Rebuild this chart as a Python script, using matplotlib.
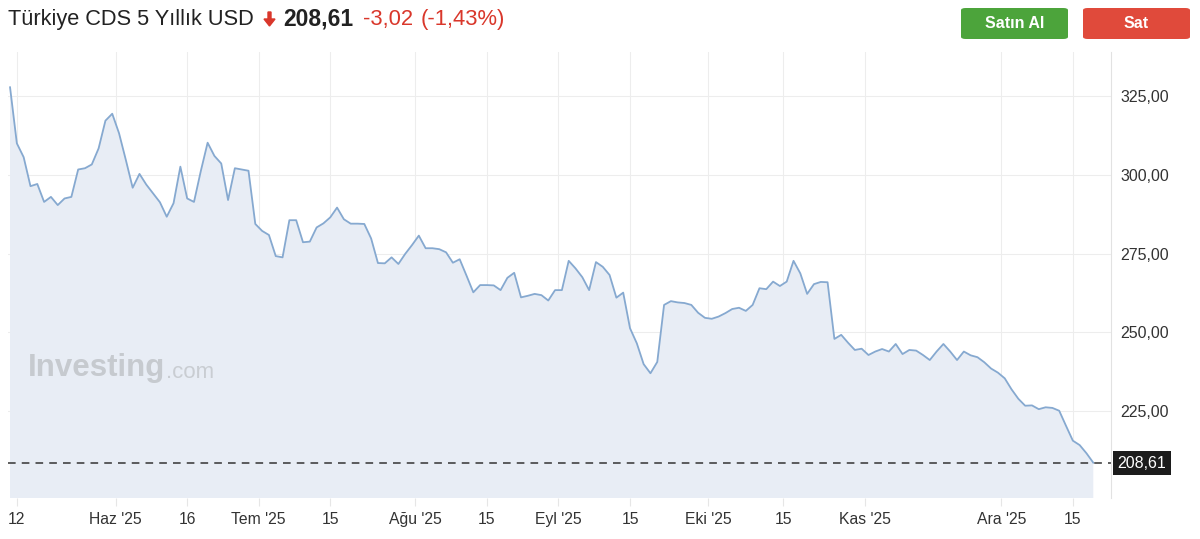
import matplotlib.pyplot as plt
from matplotlib.patches import FancyBboxPatch, FancyArrow

# Türkiye CDS 5Y USD, daily closes (trading days) from 9 May 2025 to ~18 Dec 2025
values = [
    327.8, 310.0, 305.6, 296.4, 297.1, 291.4, 293.0, 290.4, 292.5, 293.0,
    301.7, 302.1, 303.3, 308.4, 317.2, 319.4, 313.2, 304.7, 295.9, 300.3,
    296.9, 294.1, 291.3, 286.7, 291.0, 302.6, 292.5, 291.4, 301.2, 310.2,
    306.0, 303.6, 292.0, 302.1, 301.7, 301.3, 284.4, 282.2, 280.9, 274.2,
    273.8, 285.6, 285.6, 278.6, 278.8, 283.3, 284.6, 286.5, 289.6, 285.9,
    284.5, 284.5, 284.4, 279.8, 272.0, 271.9, 273.8, 271.7, 274.9, 277.7,
    280.7, 276.7, 276.7, 276.4, 275.4, 272.1, 273.2, 268.0, 262.7, 265.0,
    265.0, 264.9, 263.4, 267.3, 268.9, 261.1, 261.6, 262.2, 261.8, 260.1,
    263.4, 263.4, 272.7, 270.3, 267.5, 263.4, 272.3, 270.8, 268.2, 261.0,
    262.6, 251.3, 246.5, 239.9, 237.0, 240.6, 258.7, 259.9, 259.5, 259.3,
    258.7, 256.2, 254.6, 254.3, 255.0, 256.1, 257.4, 257.8, 256.8, 258.7,
    264.0, 263.7, 266.1, 264.7, 266.1, 272.7, 268.7, 262.2, 265.3, 266.0,
    265.9, 247.9, 249.2, 246.7, 244.4, 244.8, 242.8, 243.9, 244.7, 243.9,
    246.3, 243.1, 244.4, 244.2, 242.8, 241.2, 243.9, 246.3, 243.9, 241.2,
    243.9, 242.7, 242.1, 240.5, 238.5, 237.2, 235.4, 231.9, 228.9, 226.7,
    226.8, 225.6, 226.2, 226.0, 225.1, 220.3, 215.6, 214.2, 211.6, 208.61,
]
last_price = 208.61

tick_pos = [1, 15.5, 26, 36.5, 47, 59.5, 70, 80.5, 91, 102.5, 113.5, 125.5, 145.5, 156]
tick_labels = ["12", "Haz '25", "16", "Tem '25", "15", "Ağu '25", "15", "Eyl '25",
               "15", "Eki '25", "15", "Kas '25", "Ara '25", "15"]
y_ticks = [225, 250, 275, 300, 325]

plt.rcParams['font.family'] = ['Liberation Sans', 'DejaVu Sans']

W, H = 1200, 539
fig = plt.figure(figsize=(12, 5.39), dpi=100)
ax = fig.add_axes([8 / W, 1 - 498 / H, (1111 - 8) / W, (498 - 52) / H])

x = list(range(len(values)))
ax.fill_between(x, values, 150, color='#e8edf5', linewidth=0)
ax.plot(x, values, color='#86a9d0', linewidth=1.3)
ax.axhline(last_price, color='#333333', linewidth=1.1, dashes=(5, 4))

ax.set_xlim(-0.3, 161.6)
ax.set_ylim(197.4, 339.0)

ax.set_xticks(tick_pos)
ax.set_xticklabels(tick_labels)
ax.set_yticks(y_ticks)
ax.set_yticklabels([f"{v:.2f}".replace('.', ',') for v in y_ticks])
ax.yaxis.tick_right()
ax.tick_params(axis='y', length=0, pad=7, labelsize=11.5, labelcolor='#333333')
ax.tick_params(axis='x', length=6, color='#e6e6e6', pad=4, labelsize=11.3, labelcolor='#333333')
ax.grid(True, color='#ededed', linewidth=0.8)
ax.set_axisbelow(True)
for side in ['top', 'left', 'bottom']:
    ax.spines[side].set_visible(False)
ax.spines['right'].set_color('#e2e2e2')

# watermark
wm = ax.text(0.018, 0.274, 'Investing', transform=ax.transAxes, fontsize=22.5,
             fontweight='bold', color='#c6cacf', va='baseline', ha='left')
ax.annotate('.com', xy=(1, 0), xycoords=wm, xytext=(1, 0), textcoords='offset points',
            fontsize=16, color='#c9cdd2', va='bottom', ha='left')

# last price tag
fig.text(1142 / W, 1 - 463 / H, f"{last_price:.2f}".replace('.', ','), color='white',
         fontsize=11.5, ha='center', va='center',
         bbox=dict(boxstyle='square,pad=0.3', facecolor='#1c1c1c', edgecolor='none'))

# header
ty = 1 - 19 / H
fig.text(8 / W, ty, 'Türkiye CDS 5 Yıllık USD', fontsize=15.7, color='#222222', va='center')
fig.patches.append(FancyArrow(269.5 / W, 1 - 12 / H, 0, -14 / H, width=3 / W,
                              head_width=11 / W, head_length=7 / H,
                              length_includes_head=True, color='#d9372b',
                              transform=fig.transFigure, figure=fig))
fig.text(283 / W, ty, '208,61', fontsize=16.5, fontweight='bold', color='#222222', va='center')
fig.text(363 / W, ty, '-3,02', fontsize=15.8, color='#d9372b', va='center')
fig.text(421 / W, ty, '(-1,43%)', fontsize=15.8, color='#d9372b', va='center')

# buttons
for x0, label, col in [(961, 'Satın Al', '#4ca43b'), (1083, 'Sat', '#e04a3b')]:
    fig.patches.append(FancyBboxPatch((x0 / W, 1 - 39 / H), 107 / W, 31 / H,
                                      boxstyle='round,pad=0,rounding_size=0.004',
                                      facecolor=col, edgecolor='none',
                                      transform=fig.transFigure, figure=fig))
    fig.text((x0 + 53.5) / W, 1 - 23.5 / H, label, fontsize=11.5, fontweight='bold',
             color='white', ha='center', va='center')

fig.savefig('out.png', dpi=100)
